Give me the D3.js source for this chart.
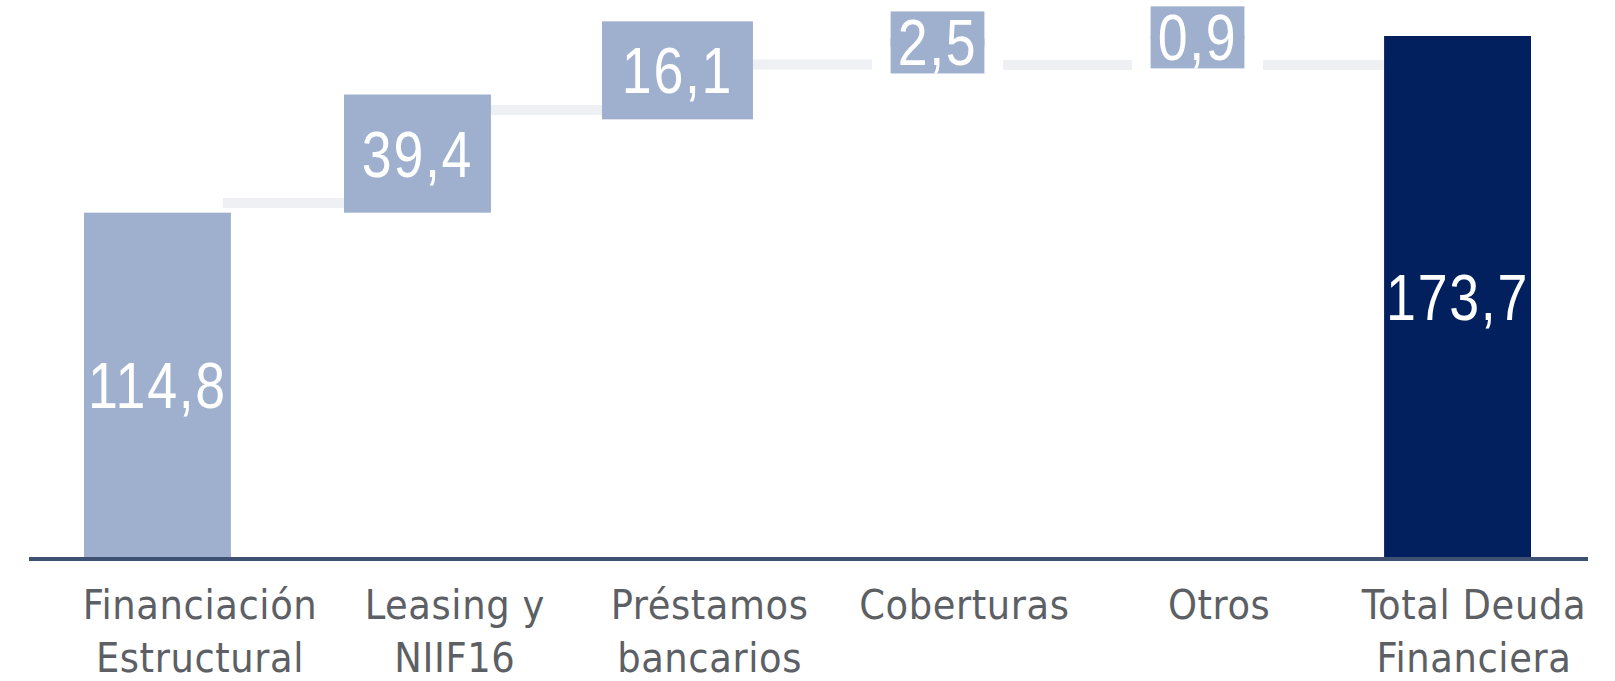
<!DOCTYPE html>
<html>
<head>
<meta charset="utf-8">
<script src="https://cdn.jsdelivr.net/npm/d3@7"></script>
<style>
  body { margin: 0; background: #fff; }
  svg { display: block; }
</style>
</head>
<body>
<svg id="chart" width="1615" height="681"></svg>
<script>
// waterfall data (mill. eur)
const categories = [
  ['Financiación', 'Estructural'],
  ['Leasing y', 'NIIF16'],
  ['Préstamos', 'bancarios'],
  ['Coberturas'],
  ['Otros'],
  ['Total Deuda', 'Financiera']
];
const values = [114.8, 39.4, 16.1, 2.5, 0.9, 173.7];
const labels = ['114,8', '39,4', '16,1', '2,5', '0,9', '173,7'];
const kinds = ['start', 'step', 'step', 'step', 'step', 'total'];
// levels where the connector bands sit
const connectorLevels = [118, 149, 164.2, 164, 164];

const base = 557;
const squeeze = 0.84; // narrow look for the value labels

const svg = d3.select('#chart');

const x = d3.scaleBand()
    .domain(d3.range(values.length))
    .range([84, 1531])
    .paddingInner(0.435)
    .paddingOuter(0);

const y = d3.scaleLinear()
    .domain([0, 173.7])
    .range([base, 36]);

const xLabel = d3.scalePoint()
    .domain(d3.range(values.length))
    .range([200, 1474]);

// cumulative start / end for each bar
let run = 0;
const bars = values.map((v, i) => {
    let lo, hi;
    if (kinds[i] === 'total') { lo = 0; hi = v; }
    else { lo = run; hi = run + v; run = hi; }
    return {i: i, lo: lo, hi: hi, label: labels[i], kind: kinds[i]};
});

const bw = x.bandwidth();

// connectors
svg.append('g')
    .selectAll('line')
    .data(connectorLevels)
    .join('line')
    .attr('x1', (d, i) => x(i) + bw - 8)
    .attr('x2', (d, i) => x(i + 1) + 8)
    .attr('y1', d => y(d))
    .attr('y2', d => y(d))
    .style('stroke', '#eef0f3')
    .style('stroke-width', 10);

const barG = svg.append('g');
const labG = svg.append('g');

// value labels first, so boxes can be measured
const lab = labG.selectAll('g')
    .data(bars)
    .join('g');

lab.append('rect').attr('class', 'bg');
lab.append('text')
    .text(d => d.label)
    .attr('text-anchor', 'middle')
    .attr('transform', d => {
        const cx = x(d.i) + bw / 2;
        const cy = (y(d.lo) + y(d.hi)) / 2 + 23;
        return `translate(${cx},${cy}) scale(${squeeze},1)`;
    })
    .style('font-family', '"Liberation Sans", Arial, sans-serif')
    .style('font-size', '64px')
    .style('letter-spacing', '2px')
    .style('fill', '#ffffff');

lab.each(function(d) {
    d.boxW = bw;
    if (d.kind !== 'step') return;
    const g = d3.select(this);
    const tw = g.select('text').node().getComputedTextLength() * squeeze;
    const cy = (y(d.lo) + y(d.hi)) / 2;
    const barH = y(d.lo) - y(d.hi);
    const wide = barH > 30;
    const bwid = wide ? bw + 4 : tw + 14;
    const bh = wide ? 98 : 62;
    if (barH >= bh) return;
    d.boxW = Math.min(bw, bwid);
    g.select('rect.bg')
        .attr('x', x(d.i) + bw / 2 - bwid / 2)
        .attr('width', bwid)
        .attr('y', cy - bh / 2)
        .attr('height', bh)
        .style('fill', '#9eb0cd');
});

// bars
barG.selectAll('rect')
    .data(bars)
    .join('rect')
    .attr('x', d => x(d.i) + (bw - d.boxW) / 2)
    .attr('width', d => d.boxW)
    .attr('y', d => y(d.hi))
    .attr('height', d => y(d.lo) - y(d.hi))
    .style('fill', d => d.kind === 'total' ? '#03205e' : '#9eb0cd');

// axis line
svg.append('line')
    .attr('x1', 29).attr('x2', 1588)
    .attr('y1', base + 2).attr('y2', base + 2)
    .style('stroke', '#3e5173')
    .style('stroke-width', 4);

// category labels
const cat = svg.append('g')
    .selectAll('text')
    .data(categories)
    .join('text')
    .attr('x', (d, i) => xLabel(i))
    .attr('y', 619)
    .attr('text-anchor', 'middle')
    .style('font-family', '"DejaVu Sans Condensed", "DejaVu Sans", sans-serif')
    .style('font-size', '41px')
    .style('letter-spacing', '0.6px')
    .style('fill', '#5c6065');

cat.selectAll('tspan')
    .data(d => d)
    .join('tspan')
    .attr('x', function() { return d3.select(this.parentNode).attr('x'); })
    .attr('dy', (d, i) => i === 0 ? 0 : 53)
    .text(d => d);
</script>
</body>
</html>
